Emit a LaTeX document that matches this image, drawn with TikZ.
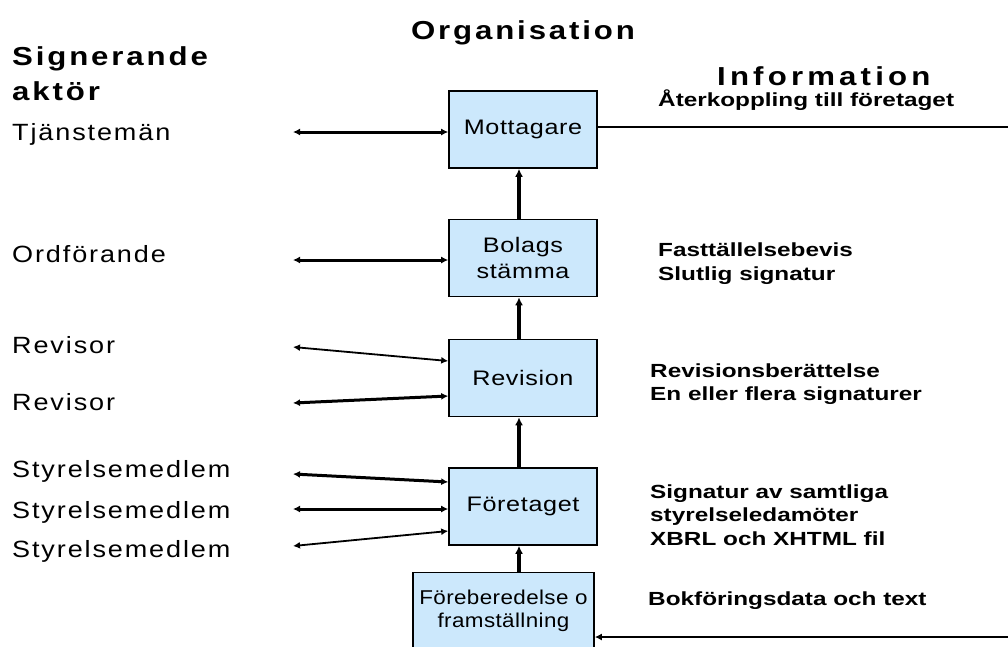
\documentclass[tikz,border=0pt]{standalone}
\usepackage{fontspec}
\setmainfont{Liberation Sans}
\newfontfamily\lblfont[FakeStretch=1.15,LetterSpace=8]{Liberation Sans}
\newfontfamily\boxfont[FakeStretch=1.2,LetterSpace=3]{Liberation Sans}
\newfontfamily\forefont[FakeStretch=1.12,LetterSpace=2]{Liberation Sans}
\newfontfamily\hdfont[FakeStretch=1.2,LetterSpace=11]{Liberation Sans}
\newfontfamily\hdwidefont[FakeStretch=1.2,LetterSpace=16]{Liberation Sans}
\newfontfamily\infofont[FakeStretch=1.28]{Liberation Sans}
\usetikzlibrary{arrows.meta,calc}
\definecolor{boxblue}{RGB}{204,232,252}
\tikzset{
  box/.style={draw=black, line width=1.6pt, fill=boxblue, minimum width=148pt, minimum height=77pt, inner sep=0pt, align=center, font=\boxfont\fontsize{21}{26}\selectfont},
  hd/.style={anchor=base west, inner sep=0pt, font=\hdfont\bfseries\fontsize{26}{30}\selectfont},
  lbl/.style={anchor=base west, inner sep=0pt, font=\lblfont\fontsize{23.5}{28}\selectfont},
  info/.style={anchor=base west, inner sep=0pt, font=\infofont\bfseries\fontsize{19}{24}\selectfont},
  link/.style={{Latex[length=7pt,width=7pt]}-{Latex[length=7pt,width=7pt]}, line width=3pt},
  thinlink/.style={{Latex[length=7pt,width=7pt]}-{Latex[length=7pt,width=7pt]}, line width=1.8pt},
  uparrow/.style={-{Latex[length=8pt,width=8pt]}, line width=3.5pt},
}
\begin{document}
\begin{tikzpicture}[x=1pt,y=-1pt]
\useasboundingbox (0,0) rectangle (1008,646);
\clip (0,0) rectangle (1008,646);
% headings
\node[hd] (h1) at (12,65) {Signerande};
\node[hd] (h2) at (12,100) {aktör};
\node[hd, anchor=base] (h3) at (523,39) {Organisation};
\node[hd, font=\hdwidefont\bfseries\fontsize{26}{30}\selectfont] (h4) at (717,85) {Information};
% boxes
\node[box] (motta) at (523,129.5) {Mottagare};
\node[box] (bol) at (523,258) {Bolags\\stämma};
\node[box] (rev) at (523,378) {Revision};
\node[box] (foret) at (523,506.5) {Företaget};
\node[box, minimum width=181pt, font=\forefont\fontsize{20}{23}\selectfont] (fore) at (503.5,611) {Föreberedelse o\\framställning};
% vertical connectors
\coordinate (vx) at (519,0);
\draw[uparrow] (fore.north -| vx) -- (foret.south -| vx);
\draw[uparrow] (foret.north -| vx) -- (rev.south -| vx);
\draw[uparrow] (rev.north -| vx) -- (bol.south -| vx);
\draw[uparrow] (bol.north -| vx) -- (motta.south -| vx);
% left labels
\node[lbl] (t1) at (12,140) {Tjänstemän};
\node[lbl] (t2) at (12,262) {Ordförande};
\node[lbl] (t3) at (12,353) {Revisor};
\node[lbl] (t4) at (12,410) {Revisor};
\node[lbl] (t5) at (12,477) {Styrelsemedlem};
\node[lbl] (t6) at (12,518) {Styrelsemedlem};
\node[lbl] (t7) at (12,557) {Styrelsemedlem};
% left connector ends
\coordinate (e1) at (293,132);
\coordinate (e2) at (293,260);
\coordinate (e3) at (293,347);
\coordinate (e4) at (293,403);
\coordinate (e5) at (293,474);
\coordinate (e6) at (293,509);
\coordinate (e7) at (293,546);
\draw[link] (e1) -- (motta.west |- e1);
\draw[link] (e2) -- (bol.west |- e2);
\draw[thinlink] (e3) -- ($(rev.west)+(0,-17)$);
\draw[link] (e4) -- ($(rev.west)+(0,18)$);
\draw[link] (e5) -- ($(foret.west)+(0,-24.5)$);
\draw[link] (e6) -- (foret.west |- e6);
\draw[thinlink] (e7) -- ($(foret.west)+(0,24.5)$);
% right connectors
\coordinate (outR) at (1010,127);
\coordinate (inR) at (1010,637);
\draw[line width=1.8pt] (motta.east |- outR) -- (outR);
\draw[-{Latex[length=7pt,width=7pt]}, line width=2.6pt] (inR) -- (fore.east |- inR);
% info texts
\node[info] (i1) at (658,106) {Återkoppling till företaget};
\node[info] (i2) at (658,256) {Fasttällelsebevis};
\node[info] (i3) at (658,280) {Slutlig signatur};
\node[info] (i4) at (650,377) {Revisionsberättelse};
\node[info] (i5) at (650,400) {En eller flera signaturer};
\node[info] (i6) at (650,498) {Signatur av samtliga};
\node[info] (i7) at (650,521) {styrelseledamöter};
\node[info] (i8) at (650,545) {XBRL och XHTML fil};
\node[info] (i9) at (648,605) {Bokföringsdata och text};
\end{tikzpicture}
\end{document}
